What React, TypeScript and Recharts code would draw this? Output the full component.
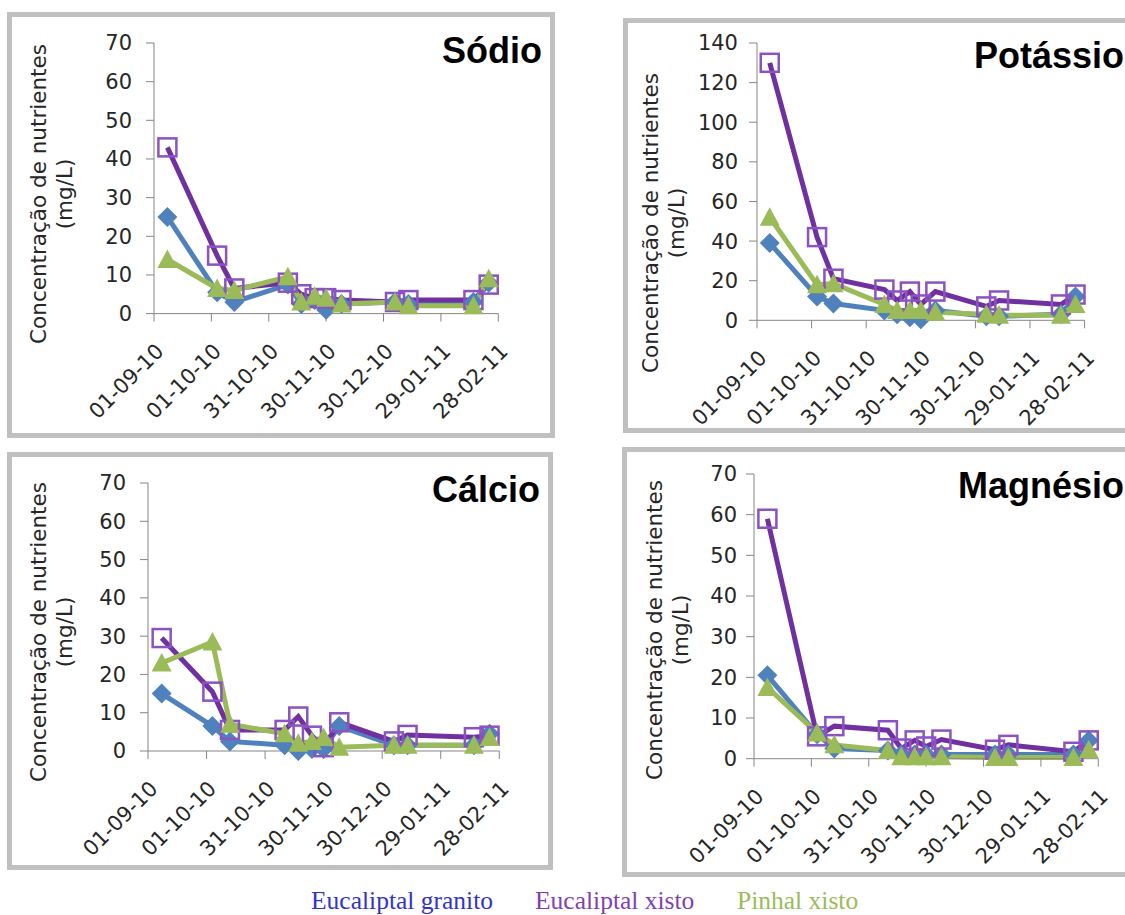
import React from 'react';
import { LineChart, Line, XAxis, YAxis } from 'recharts';

// days counted from 01-09-10
const DAYS = [7, 33, 42, 70, 77, 84, 90, 98, 126, 133, 167, 175];
const X_TICKS = [0, 30, 60, 90, 120, 150, 180];
const X_TICK_LABELS = ['01-09-10', '01-10-10', '31-10-10', '30-11-10', '30-12-10', '29-01-11', '28-02-11'];
const SERIES_NAMES = ['Eucaliptal granito', 'Eucaliptal xisto', 'Pinhal xisto'];
const Y_TICKS_70 = [0, 10, 20, 30, 40, 50, 60, 70];
const Y_TICKS_140 = [0, 20, 40, 60, 80, 100, 120, 140];

const sodioGranito = [25, 5.5, 3, 7.5, 2.5, 3.5, 1, 2.5, 3, 2.5, 3, 8];
const sodioXisto = [43, 15, 6.5, 8, 5, 4, 4, 3.5, 3, 3.5, 3.5, 7.5];
const sodioPinhal = [14, 6.5, 6, 9.5, 3, 4.5, 4, 2.5, 3, 2, 2, 9];

const potassioGranito = [39, 12, 8.5, 5, 3, 1.5, 0.5, 5, 2, 2, 3, 12];
const potassioXisto = [130, 42, 21, 15.5, 10, 14.5, 8, 14.5, 7, 10, 8, 13];
const potassioPinhal = [52, 18, 18.5, 8, 5, 5, 5, 4, 3, 2.5, 2.5, 8];

const calcioGranito = [15, 6.5, 2.5, 1.5, 0, 0.5, 0.5, 6.5, 1.5, 1.5, 1.5, 4.5];
const calcioXisto = [29.5, 15.5, 5.5, 5.5, 9, 4, 1, 7.5, 2.5, 4.2, 3.6, 4];
const calcioPinhal = [23, 28.5, 7, 4.5, 2, 2.5, 3.5, 1, 1.5, 1.5, 1.5, 3.5];

const magnesioGranito = [20.5, 6, 2.5, 2, 1, 1, 1, 1, 1, 1, 1, 4.5];
const magnesioXisto = [59, 5.5, 8, 7, 2.5, 4.5, 3, 4.7, 2.2, 3.4, 1.7, 4.5];
const magnesioPinhal = [17.5, 6.3, 3.4, 2, 0.5, 0.5, 0.5, 0.5, 0.3, 0.3, 0.3, 2.2];

const BLUE = '#4f81bd';
const PURPLE = '#7030a0';
const PURPLE_MARK = '#8b52c2';
const GREEN = '#9bbb59';
const AXIS = '#868686';
const TEXT = '#262626';
const TICK_FONT = 'DejaVu Sans';
const TICK_SIZE = 21;

function rows(g: number[], x: number[], p: number[]) {
  return DAYS.map((day, i) => ({ day, granito: g[i], xisto: x[i], pinhal: p[i] }));
}

const panels = [
  {
    title: 'Sódio', data: rows(sodioGranito, sodioXisto, sodioPinhal), max: 70, ticks: Y_TICKS_70,
    box: [7, 12, 548, 426], plot: [154, 42.7, 498.3, 313.3], tickMargin: 14,
    titleX: 542, titleY: 63, titleAnchor: 'end', yTitleX: 46, yTitleY: 194,
  },
  {
    title: 'Potássio', data: rows(potassioGranito, potassioXisto, potassioPinhal), max: 140, ticks: Y_TICKS_140,
    box: [623, 18, 560, 415], plot: [756.7, 42.7, 1084.3, 320], tickMargin: 11,
    titleX: 974, titleY: 68, titleAnchor: 'start', yTitleX: 658, yTitleY: 223,
  },
  {
    title: 'Cálcio', data: rows(calcioGranito, calcioXisto, calcioPinhal), max: 70, ticks: Y_TICKS_70,
    box: [7, 452, 546, 418], plot: [147.7, 482.7, 499, 750.7], tickMargin: 14,
    titleX: 540, titleY: 502, titleAnchor: 'end', yTitleX: 46, yTitleY: 632,
  },
  {
    title: 'Magnésio', data: rows(magnesioGranito, magnesioXisto, magnesioPinhal), max: 70, ticks: Y_TICKS_70,
    box: [622, 447, 560, 430], plot: [754, 474.3, 1098.3, 759], tickMargin: 9,
    titleX: 958, titleY: 498, titleAnchor: 'start', yTitleX: 662, yTitleY: 630,
  },
];

function diamondDot(props: any) {
  const { cx, cy, index } = props;
  const r = 10;
  return (
    <path key={`dm${index}`} d={`M${cx},${cy - r}L${cx + r},${cy}L${cx},${cy + r}L${cx - r},${cy}Z`} fill={BLUE} />
  );
}

function squareDot(props: any) {
  const { cx, cy, index } = props;
  return (
    <rect key={`sq${index}`} x={cx - 9} y={cy - 9} width={18} height={18} fill="none" stroke={PURPLE_MARK} strokeWidth={2.5} />
  );
}

function triangleDot(props: any) {
  const { cx, cy, index } = props;
  return (
    <path key={`tr${index}`} d={`M${cx},${cy - 10}L${cx + 10},${cy + 8.5}L${cx - 10},${cy + 8.5}Z`} fill={GREEN} />
  );
}

function DateTick(props: any) {
  const { x, y, payload } = props;
  const label = X_TICK_LABELS[X_TICKS.indexOf(payload.value)];
  const ax = x + 11;
  const ay = y + 31;
  return (
    <text x={ax} y={ay} transform={`rotate(-45 ${ax} ${ay})`} textAnchor="end" fontSize={TICK_SIZE} fontFamily={TICK_FONT} fill={TEXT}>
      {label}
    </text>
  );
}

const YW = 100;
const MT = 20;
const MR = 20;
const XH = 120;

function Panel({ p }: { p: any }) {
  const [L, T, R, B] = p.plot;
  const w = YW + (R - L) + MR;
  const h = MT + (B - T) + XH;
  return (
    <div style={{ position: 'absolute', left: L - YW, top: T - MT }}>
      <LineChart width={w} height={h} data={p.data} margin={{ top: MT, right: MR, bottom: 0, left: 0 }}>
        <XAxis
          dataKey="day"
          type="number"
          domain={[0, 180]}
          ticks={X_TICKS}
          interval={0}
          height={XH}
          tickSize={8}
          tickMargin={0}
          axisLine={{ stroke: AXIS }}
          tickLine={{ stroke: AXIS }}
          tick={<DateTick />}
        />
        <YAxis
          type="number"
          domain={[0, p.max]}
          ticks={p.ticks}
          interval={0}
          width={YW}
          tickSize={8}
          tickMargin={p.tickMargin}
          axisLine={{ stroke: AXIS }}
          tickLine={{ stroke: AXIS }}
          tick={{ fill: TEXT, fontSize: TICK_SIZE, fontFamily: TICK_FONT }}
        />
        <Line type="linear" dataKey="granito" name={SERIES_NAMES[0]} stroke={BLUE} strokeWidth={5} dot={diamondDot} activeDot={false} isAnimationActive={false} />
        <Line type="linear" dataKey="xisto" name={SERIES_NAMES[1]} stroke={PURPLE} strokeWidth={5} dot={squareDot} activeDot={false} isAnimationActive={false} />
        <Line type="linear" dataKey="pinhal" name={SERIES_NAMES[2]} stroke={GREEN} strokeWidth={5} dot={triangleDot} activeDot={false} isAnimationActive={false} />
      </LineChart>
    </div>
  );
}

export default function App() {
  return (
    <div style={{ position: 'absolute', left: 0, top: 0, width: 1125, height: 915, overflow: 'hidden', background: '#fff' }}>
      {panels.map((p) => (
        <div
          key={p.title + 'box'}
          style={{
            position: 'absolute', left: p.box[0], top: p.box[1], width: p.box[2], height: p.box[3],
            border: '5px solid #c0c0c0', boxSizing: 'border-box', background: '#fff',
          }}
        />
      ))}
      {panels.map((p) => <Panel key={p.title} p={p} />)}
      <svg width={1125} height={915} style={{ position: 'absolute', left: 0, top: 0, pointerEvents: 'none' }}>
        {panels.map((p) => (
          <g key={p.title + 'txt'}>
            <text x={p.titleX} y={p.titleY} textAnchor={p.titleAnchor} fontFamily="Liberation Sans" fontWeight="bold" fontSize={36} fill="#000">
              {p.title}
            </text>
            <text transform={`translate(${p.yTitleX} ${p.yTitleY}) rotate(-90)`} textAnchor="middle" fontFamily={TICK_FONT} fontSize={21.5} fill={TEXT}>
              <tspan x={0} y={0}>Concentração de nutrientes</tspan>
              <tspan x={0} dy={26}>(mg/L)</tspan>
            </text>
          </g>
        ))}
        <text x={311} y={909} fontFamily="Liberation Serif" fontSize={25.5} fill="#3333cc">{SERIES_NAMES[0]}</text>
        <text x={535} y={909} fontFamily="Liberation Serif" fontSize={25.5} fill="#7f3fb5">{SERIES_NAMES[1]}</text>
        <text x={737} y={909} fontFamily="Liberation Serif" fontSize={25.5} fill={GREEN}>{SERIES_NAMES[2]}</text>
      </svg>
    </div>
  );
}
